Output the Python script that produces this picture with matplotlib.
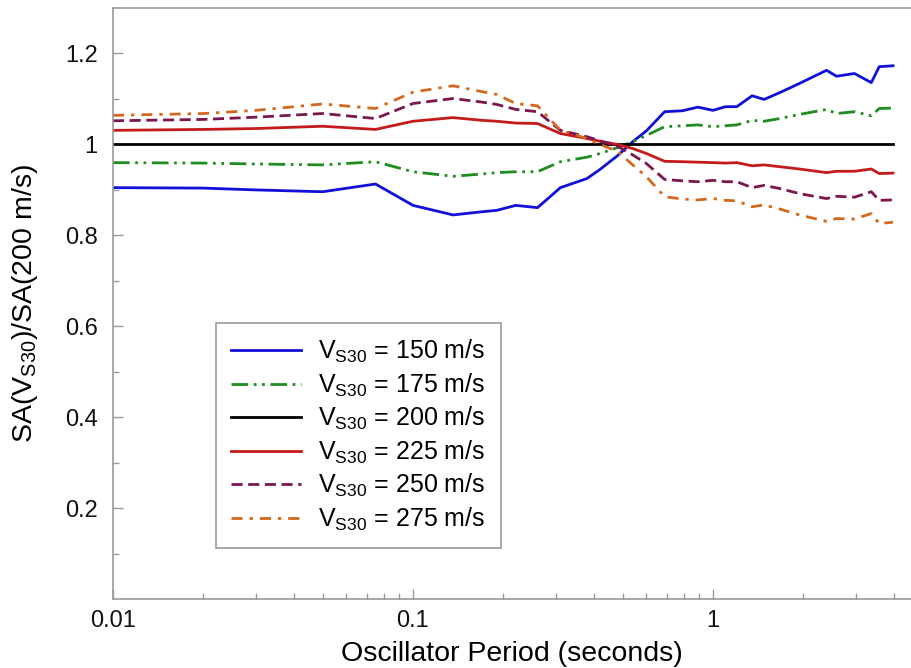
import numpy as np
import matplotlib
matplotlib.use('Agg')
import matplotlib.pyplot as plt
from matplotlib.ticker import FixedLocator, NullFormatter, FuncFormatter

plt.rcParams['font.family'] = ['Liberation Sans', 'DejaVu Sans']
plt.rcParams['mathtext.fontset'] = 'custom'
plt.rcParams['mathtext.rm'] = 'Liberation Sans'
plt.rcParams['mathtext.it'] = 'Liberation Sans'

# Periodos (s)
periods = [0.01, 0.02, 0.03, 0.05, 0.075, 0.1, 0.136, 0.17, 0.19, 0.22,
           0.26, 0.31, 0.38, 0.42, 0.48, 0.54, 0.6, 0.69, 0.79, 0.89,
           1.0, 1.1, 1.2, 1.35, 1.48, 1.67, 1.94, 2.39, 2.58, 2.96,
           3.37, 3.58, 3.98]

vs150 = [0.905, 0.904, 0.900, 0.896, 0.913, 0.866, 0.845, 0.852, 0.855, 0.866,
         0.861, 0.905, 0.925, 0.945, 0.975, 1.006, 1.030, 1.072, 1.074, 1.082,
         1.075, 1.083, 1.083, 1.107, 1.099, 1.114, 1.134, 1.163, 1.150, 1.156,
         1.136, 1.171, 1.173]
vs175 = [0.960, 0.959, 0.957, 0.955, 0.962, 0.940, 0.930, 0.935, 0.938, 0.940,
         0.940, 0.962, 0.972, 0.980, 0.993, 1.006, 1.020, 1.039, 1.041, 1.043,
         1.039, 1.041, 1.043, 1.053, 1.051, 1.057, 1.066, 1.077, 1.068, 1.072,
         1.063, 1.079, 1.080]
vs200 = [1.0] * len(periods)
vs225 = [1.031, 1.033, 1.035, 1.040, 1.033, 1.051, 1.059, 1.053, 1.051, 1.047,
         1.046, 1.024, 1.013, 1.007, 1.000, 0.991, 0.980, 0.963, 0.962, 0.961,
         0.960, 0.959, 0.960, 0.953, 0.955, 0.951, 0.946, 0.938, 0.941, 0.941,
         0.946, 0.936, 0.937]
vs250 = [1.052, 1.055, 1.060, 1.068, 1.057, 1.090, 1.101, 1.093, 1.088, 1.077,
         1.072, 1.031, 1.017, 1.008, 0.996, 0.977, 0.958, 0.923, 0.920, 0.918,
         0.921, 0.918, 0.918, 0.905, 0.910, 0.903, 0.892, 0.881, 0.886, 0.884,
         0.896, 0.877, 0.878]
vs275 = [1.064, 1.068, 1.075, 1.089, 1.079, 1.115, 1.129, 1.116, 1.110, 1.090,
         1.085, 1.031, 1.013, 1.000, 0.985, 0.955, 0.929, 0.885, 0.880, 0.878,
         0.881, 0.877, 0.876, 0.863, 0.867, 0.858, 0.845, 0.831, 0.837, 0.836,
         0.848, 0.826, 0.829]

labels = ['150', '175', '200', '225', '250', '275']

fig = plt.figure(figsize=(9.11, 6.68), dpi=100)
ax = fig.add_axes([0.124, 0.103, 0.876, 0.885])

lw = 2.0
ax.plot(periods, vs150, color='#1010d8', lw=lw, ls='-')
ax.plot(periods, vs175, color='#1e8c1e', lw=lw, ls=(0, (6, 2, 1, 2, 1, 2)))
ax.plot(periods, vs200, color='black', lw=lw, ls='-')
ax.plot(periods, vs225, color='#c41a1a', lw=lw, ls='-')
ax.plot(periods, vs250, color='#7a1650', lw=lw, ls=(0, (4, 2)))
ax.plot(periods, vs275, color='#d2691e', lw=lw, ls=(0, (4, 2.5, 1.2, 2.5)))

ax.set_xscale('log')
ax.set_xlim(0.01, 4.57)
ax.set_ylim(0, 1.3)

ax.xaxis.set_major_locator(FixedLocator([0.01, 0.1, 1]))
ax.xaxis.set_major_formatter(FuncFormatter(lambda v, p: '%g' % v))
minors = [m * d for d in (0.01, 0.1, 1) for m in range(2, 10)]
ax.xaxis.set_minor_locator(FixedLocator(minors))
ax.xaxis.set_minor_formatter(NullFormatter())

ax.yaxis.set_major_locator(FixedLocator([0.2, 0.4, 0.6, 0.8, 1.0, 1.2]))
ax.yaxis.set_major_formatter(FuncFormatter(lambda v, p: '%g' % v))
ax.yaxis.set_minor_locator(FixedLocator([0.1, 0.3, 0.5, 0.7, 0.9, 1.1]))

ax.tick_params(which='both', direction='in', colors='#999999',
               labelcolor='#111111', labelsize=17, width=1)
ax.tick_params(which='major', length=7)
ax.tick_params(axis='x', which='major', pad=8)
ax.tick_params(axis='y', which='major', pad=11)
ax.tick_params(which='minor', length=4)

for s in ['left', 'bottom', 'top']:
    ax.spines[s].set_color('#999999')
    ax.spines[s].set_linewidth(1.2)
ax.spines['right'].set_visible(False)

ax.set_xlabel('Oscillator Period (seconds)', fontsize=20.5, labelpad=6)
ax.set_ylabel(r'SA(V$_{\mathrm{S30}}$)/SA(200 m/s)', fontsize=20.5, labelpad=18)

handles = ax.get_lines()
leg = ax.legend(handles, [r'V$_{\mathrm{S30}}$ = %s m/s' % v for v in labels],
                loc='upper left', bbox_to_anchor=(0.129, 0.467),
                borderaxespad=0, fontsize=18, handlelength=2.8,
                handletextpad=0.7, labelspacing=0.25, fancybox=False,
                framealpha=1, borderpad=0.6)
leg.get_frame().set_edgecolor('#999999')
leg.get_frame().set_linewidth(1.2)

fig.savefig('out.png', dpi=100)
